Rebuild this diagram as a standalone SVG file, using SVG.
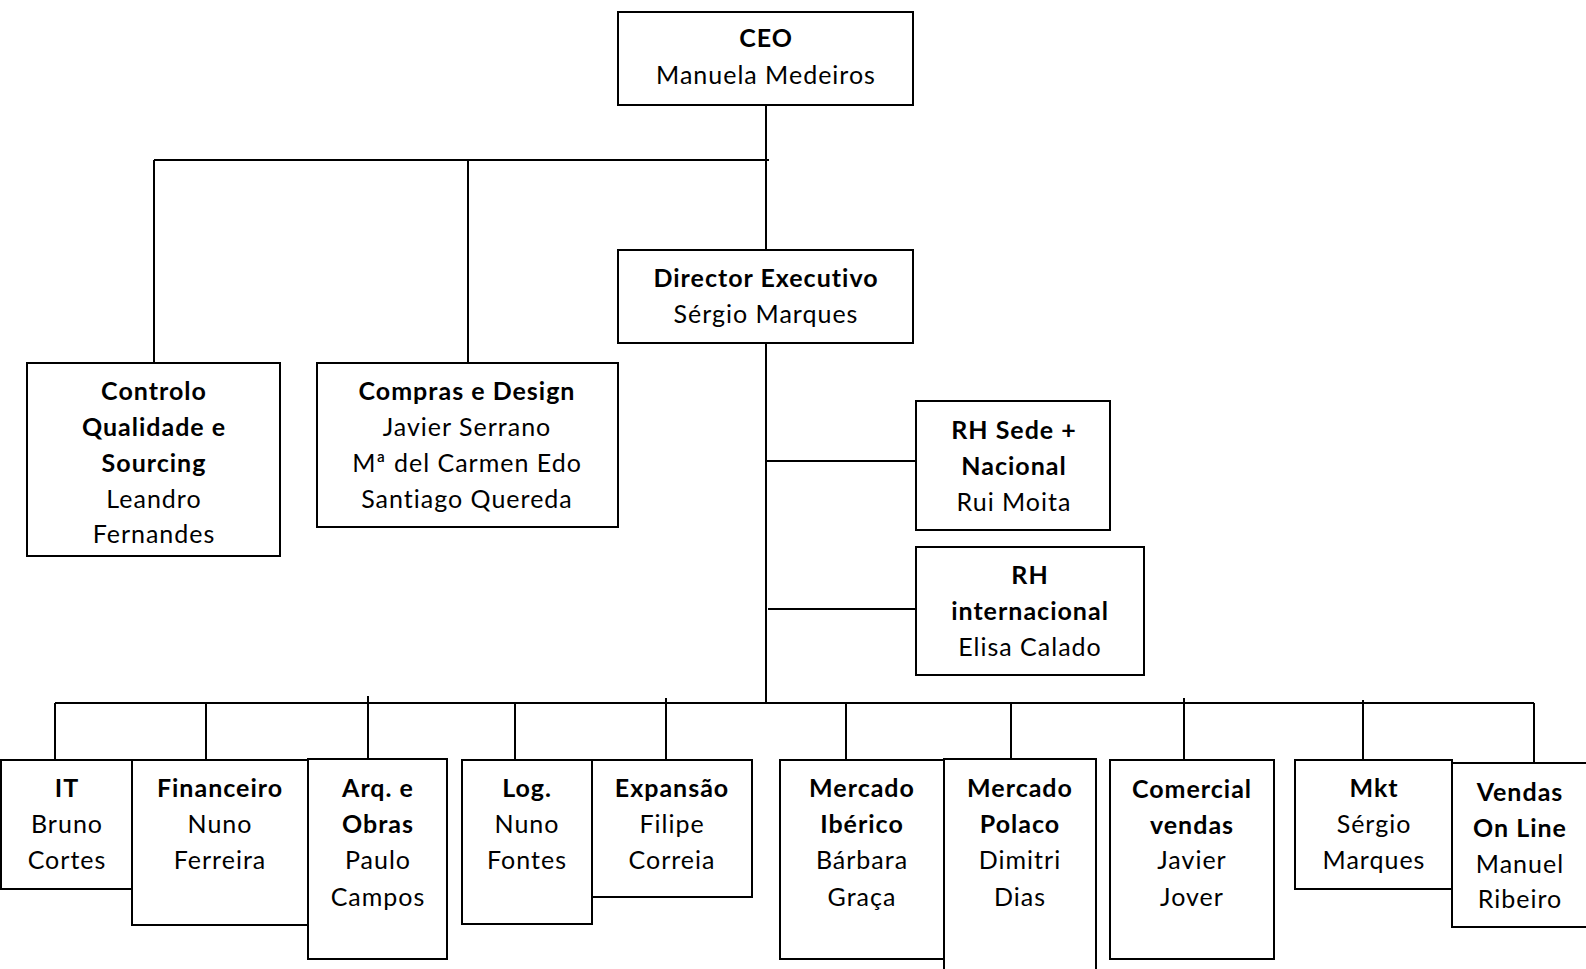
<svg xmlns="http://www.w3.org/2000/svg" width="1586" height="969" viewBox="0 0 1586 969">
<style>
.box{fill:#fff;stroke:#000;stroke-width:2}
.ln{stroke:#000;stroke-width:2;fill:none}
text{font-family:Lato,"Open Sans",sans-serif;font-size:25px;text-anchor:middle;fill:#000;letter-spacing:1px}
.b{font-weight:700}
</style>
<rect width="1586" height="969" fill="#fff"/>
<g id="connectors">
<path class="ln" d="M766 105V703M154 160H769M154 160V363M468 160V363M766 461H916M768 609H916M55 703H1534M55 703V760M206 703V760M368 696V759M515 703V760M666 698V760M846 703V760M1011 703V759M1184 698V760M1363 700V760M1534 703V763"/>
</g>
<g id="ceo"><rect class="box" x="618" y="12" width="295" height="93"/>
<text x="766" y="47" class="b">CEO</text><text x="766" y="84">Manuela Medeiros</text></g>
<g id="director"><rect class="box" x="618" y="250" width="295" height="93"/>
<text x="766" y="287" class="b">Director Executivo</text><text x="766" y="323">Sérgio Marques</text></g>
<g id="controlo"><rect class="box" x="27" y="363" width="253" height="193"/>
<text x="154" y="400" class="b">Controlo</text><text x="154" y="436" class="b">Qualidade e</text><text x="154" y="472" class="b">Sourcing</text><text x="154" y="508">Leandro</text><text x="154" y="543">Fernandes</text></g>
<g id="compras"><rect class="box" x="317" y="363" width="301" height="164"/>
<text x="467" y="400" class="b">Compras e Design</text><text x="467" y="436">Javier Serrano</text><text x="467" y="472">Mª del Carmen Edo</text><text x="467" y="508">Santiago Quereda</text></g>
<g id="rhsede"><rect class="box" x="916" y="401" width="194" height="129"/>
<text x="1014" y="439" class="b">RH Sede +</text><text x="1014" y="475" class="b">Nacional</text><text x="1014" y="511">Rui Moita</text></g>
<g id="rhint"><rect class="box" x="916" y="547" width="228" height="128"/>
<text x="1030" y="584" class="b">RH</text><text x="1030" y="620" class="b">internacional</text><text x="1030" y="656">Elisa Calado</text></g>
<g id="it"><rect class="box" x="1" y="760" width="131" height="129"/>
<text x="67" y="797" class="b">IT</text><text x="67" y="833">Bruno</text><text x="67" y="869">Cortes</text></g>
<g id="financeiro"><rect class="box" x="132" y="760" width="176" height="165"/>
<text x="220" y="797" class="b">Financeiro</text><text x="220" y="833">Nuno</text><text x="220" y="869">Ferreira</text></g>
<g id="arq"><rect class="box" x="308" y="759" width="139" height="200"/>
<text x="378" y="797" class="b">Arq. e</text><text x="378" y="833" class="b">Obras</text><text x="378" y="869">Paulo</text><text x="378" y="906">Campos</text></g>
<g id="log"><rect class="box" x="462" y="760" width="130" height="164"/>
<text x="527" y="797" class="b">Log.</text><text x="527" y="833">Nuno</text><text x="527" y="869">Fontes</text></g>
<g id="expansao"><rect class="box" x="592" y="760" width="160" height="137"/>
<text x="672" y="797" class="b">Expansão</text><text x="672" y="833">Filipe</text><text x="672" y="869">Correia</text></g>
<g id="mercado-iberico"><rect class="box" x="780" y="760" width="164" height="199"/>
<text x="862" y="797" class="b">Mercado</text><text x="862" y="833" class="b">Ibérico</text><text x="862" y="869">Bárbara</text><text x="862" y="906">Graça</text></g>
<g id="mercado-polaco"><rect class="box" x="944" y="759" width="152" height="220"/>
<text x="1020" y="797" class="b">Mercado</text><text x="1020" y="833" class="b">Polaco</text><text x="1020" y="869">Dimitri</text><text x="1020" y="906">Dias</text></g>
<g id="comercial"><rect class="box" x="1110" y="760" width="164" height="199"/>
<text x="1192" y="798" class="b">Comercial</text><text x="1192" y="834" class="b">vendas</text><text x="1192" y="869">Javier</text><text x="1192" y="906">Jover</text></g>
<g id="mkt"><rect class="box" x="1295" y="760" width="157" height="129"/>
<text x="1374" y="797" class="b">Mkt</text><text x="1374" y="833">Sérgio</text><text x="1374" y="869">Marques</text></g>
<g id="vendas"><rect class="box" x="1452" y="763" width="140" height="164"/>
<text x="1520" y="801" class="b">Vendas</text><text x="1520" y="837" class="b">On Line</text><text x="1520" y="873">Manuel</text><text x="1520" y="908">Ribeiro</text></g>
</svg>
